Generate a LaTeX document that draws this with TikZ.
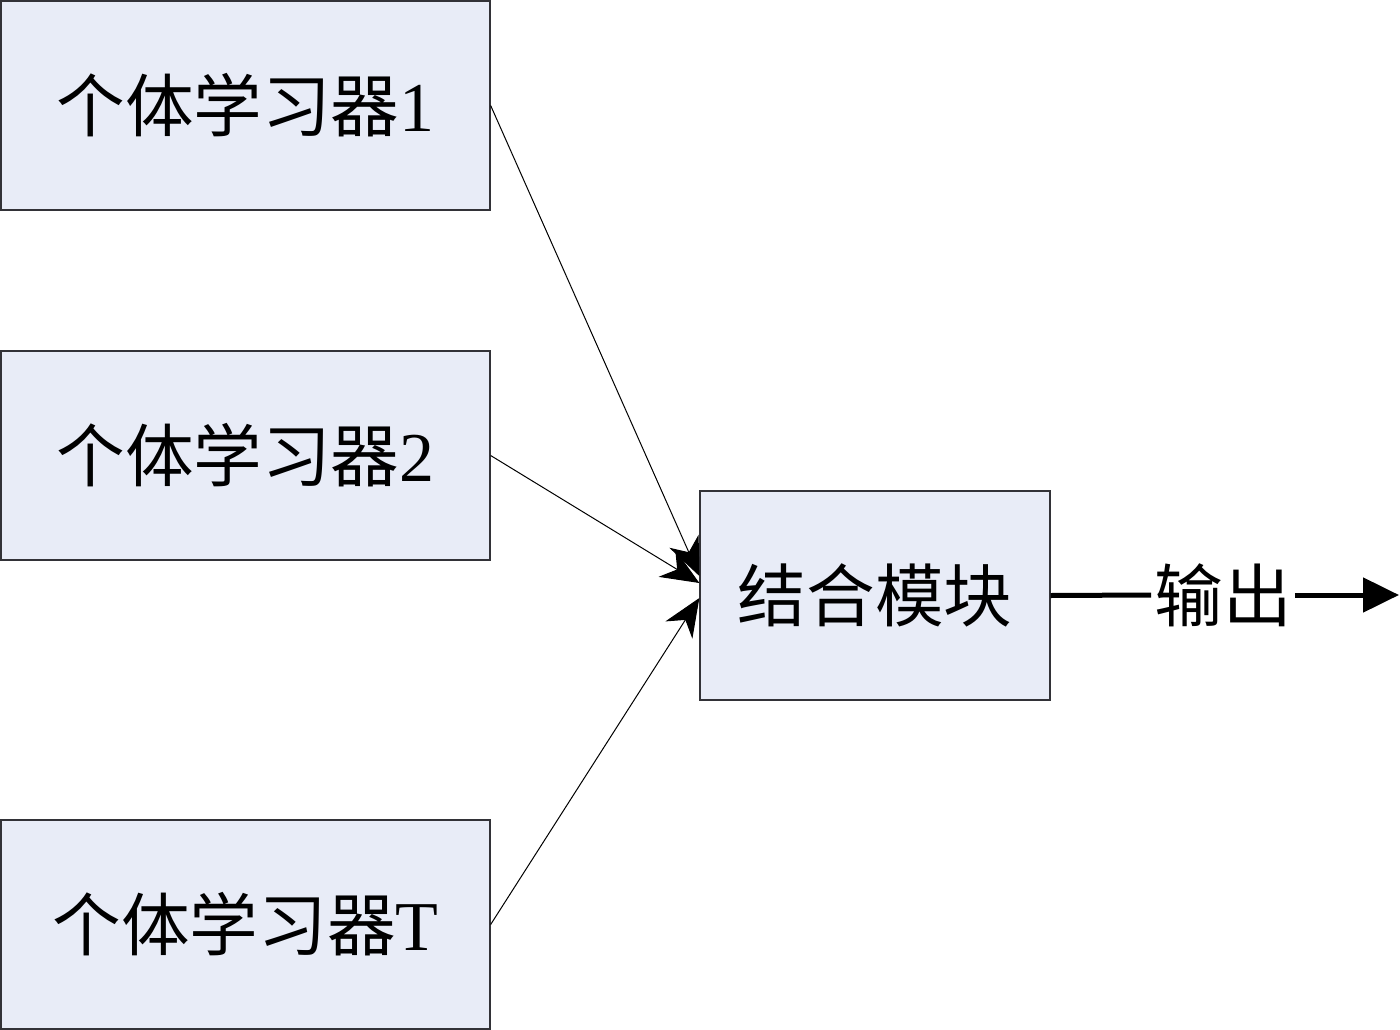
\documentclass[tikz,border=0pt]{standalone}
\usepackage{fontspec}
\setmainfont{Liberation Serif}
\newfontfamily\cjk{Noto Sans CJK SC}[Scale=0.98]
\usetikzlibrary{arrows.meta}
\definecolor{boxfill}{RGB}{232,236,247}
\definecolor{boxline}{RGB}{50,50,55}
\tikzset{
  blk/.style={draw=boxline, line width=1.3pt, fill=boxfill, inner sep=0pt,
    font=\fontsize{70}{72}\selectfont},
  conn/.style={line width=1pt, -{Stealth[length=38pt, width=32pt, inset=12pt]}},
  outline/.style={line width=5pt},
  lbl/.style={inner sep=3pt, font=\fontsize{70}{72}\selectfont}
}
\begin{document}
\begin{tikzpicture}[x=1pt, y=-1pt]
\useasboundingbox (0,0) rectangle (1400,1030);
\node[blk, minimum width=489pt, minimum height=209pt] (l1) at (245.5,105.5) {{\cjk 个体学习器}1};
\node[blk, minimum width=489pt, minimum height=209pt] (l2) at (245.5,455.5) {{\cjk 个体学习器}2};
\node[blk, minimum width=489pt, minimum height=209pt] (lt) at (245.5,924.5) {{\cjk 个体学习器}T};
\node[blk, minimum width=350pt, minimum height=209pt] (comb) at (875,595.5) {\cjk 结合模块};
\node[lbl] (out) at (1223,595) {\cjk 输出};
\coordinate (end) at (1399,595);
\draw[conn] (l1.east) -- (comb.west |- 0,576);
\draw[conn] (l2.east) -- (comb.west |- 0,583);
\draw[conn] (lt.east) -- (comb.west |- 0,598);
\draw[outline] (comb.east) -- (out.west);
\draw[outline, -{Triangle[length=36pt, width=34pt]}] (out.east) -- (end);
\end{tikzpicture}
\end{document}
